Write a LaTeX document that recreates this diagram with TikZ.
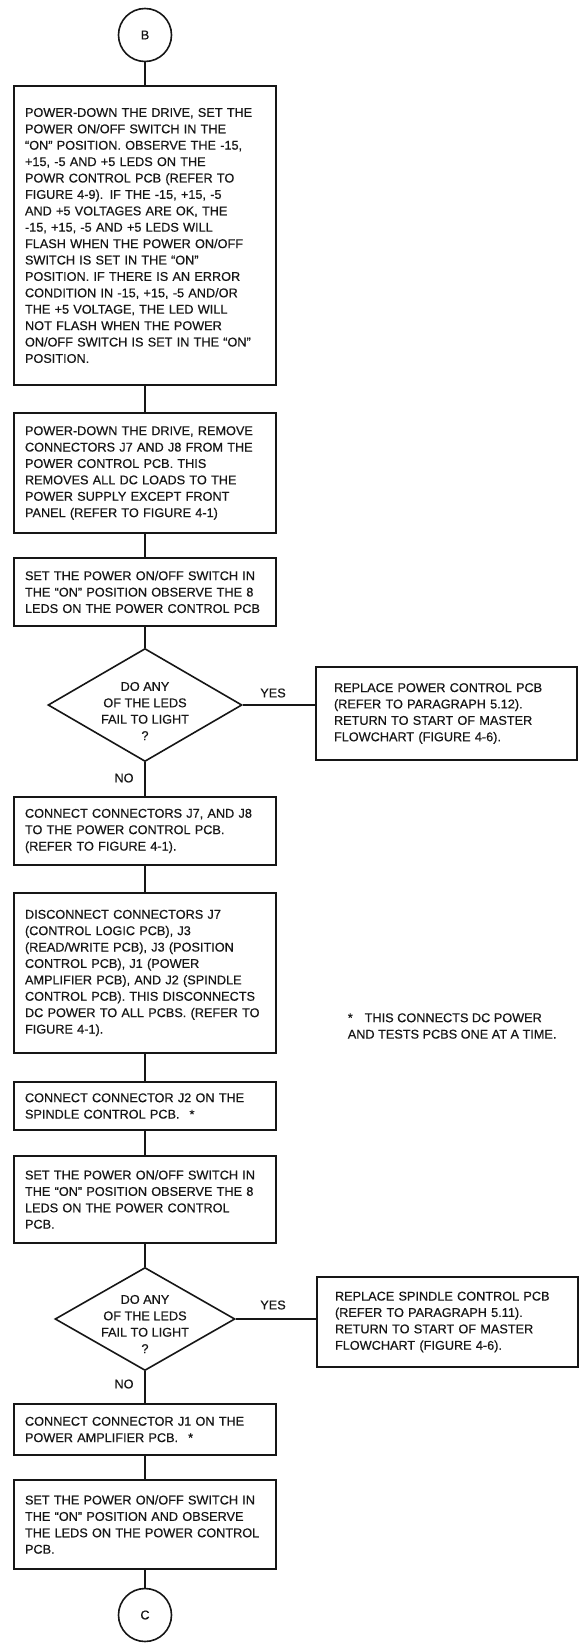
\documentclass[tikz,border=0pt]{standalone}
\usepackage{fontspec}
\setmainfont[FakeBold=0.5]{Liberation Sans}
\usetikzlibrary{shapes.geometric}
\definecolor{Tinta}{RGB}{22,22,22}
\hyphenpenalty=10000

\begin{document}
\begin{tikzpicture}[x=1pt,y=-1pt,color=Tinta,line width=1.6pt,every node/.style={font=\fontsize{12.7}{16.4}\selectfont},
caixa/.style={draw,line width=2.2pt,text width=240pt,inner xsep=11pt,align=left},
caixad/.style={draw,line width=2.2pt,text width=225pt,inner xsep=18pt,align=left},
circ/.style={circle,draw,minimum size=53pt,inner sep=0pt},
losango/.style={diamond,draw,inner sep=0pt}]
\useasboundingbox(0,0)rectangle(579,1651);
\node[circ](B)at(145,35){B};
\node[caixa,minimum height=299pt](p1)at(145,235.5){POWER-DOWN THE DRIVE, SET THE\\POWER ON/OFF SWITCH IN THE\\``ON'' POSITION. OBSERVE THE -15,\\+15, -5 AND +5 LEDS ON THE\\POWR CONTROL PCB (REFER TO\\FIGURE 4-9). IF THE -15, +15, -5\\AND +5 VOLTAGES ARE OK, THE\\-15, +15, -5 AND +5 LEDS WILL\\FLASH WHEN THE POWER ON/OFF\\SWITCH IS SET IN THE ``ON''\\POSITION. IF THERE IS AN ERROR\\CONDITION IN -15, +15, -5 AND/OR\\THE +5 VOLTAGE, THE LED WILL\\NOT FLASH WHEN THE POWER\\ON/OFF SWITCH IS SET IN THE ``ON''\\POSITION.};
\node[caixa,minimum height=120pt](p2)at(145,473){POWER-DOWN THE DRIVE, REMOVE\\CONNECTORS J7 AND J8 FROM THE\\POWER CONTROL PCB. THIS\\REMOVES ALL DC LOADS TO THE\\POWER SUPPLY EXCEPT FRONT\\PANEL (REFER TO FIGURE 4-1)};
\node[caixa,minimum height=68pt](p3)at(145,592){SET THE POWER ON/OFF SWITCH IN\\THE ``ON'' POSITION OBSERVE THE 8\\LEDS ON THE POWER CONTROL PCB};
\node[losango,minimum width=194pt,minimum height=113pt](d1)at(145,705){};
\node[align=center](d1t)at(145,711){DO ANY\\OF THE LEDS\\FAIL TO LIGHT\\?};
\node[caixad,minimum height=93pt](r1)at(446.5,713.5){REPLACE POWER CONTROL PCB\\(REFER TO PARAGRAPH 5.12).\\RETURN TO START OF MASTER\\FLOWCHART (FIGURE 4-6).};
\node(sim1)at(273,693){YES};\node(nao1)at(124,778){NO};
\node[caixa,minimum height=68pt](p4)at(145,831){CONNECT CONNECTORS J7, AND J8\\TO THE POWER CONTROL PCB.\\(REFER TO FIGURE 4-1).};
\node[caixa,minimum height=160pt](p5)at(145,973){DISCONNECT CONNECTORS J7\\(CONTROL LOGIC PCB), J3\\(READ/WRITE PCB), J3 (POSITION\\CONTROL PCB), J1 (POWER\\AMPLIFIER PCB), AND J2 (SPINDLE\\CONTROL PCB). THIS DISCONNECTS\\DC POWER TO ALL PCBS. (REFER TO\\FIGURE 4-1).};
\node[align=left,anchor=west,inner sep=0pt](nota)at(347,1026){*\hspace{12pt}THIS CONNECTS DC POWER\\AND TESTS PCBS ONE AT A TIME.};
\node[caixa,minimum height=48pt](p6)at(145,1106){CONNECT CONNECTOR J2 ON THE\\SPINDLE CONTROL PCB.\hspace{10pt}*};
\node[caixa,minimum height=87pt](p7)at(145,1199.5){SET THE POWER ON/OFF SWITCH IN\\THE ``ON'' POSITION OBSERVE THE 8\\LEDS ON THE POWER CONTROL\\PCB.};
\node[losango,minimum width=180pt,minimum height=103pt](d2)at(145,1319){};
\node[align=center](d2t)at(145,1324){DO ANY\\OF THE LEDS\\FAIL TO LIGHT\\?};
\node[caixad,minimum height=90pt](r2)at(447.5,1322){REPLACE SPINDLE CONTROL PCB\\(REFER TO PARAGRAPH 5.11).\\RETURN TO START OF MASTER\\FLOWCHART (FIGURE 4-6).};
\node(sim2)at(273,1305){YES};\node(nao2)at(124,1384){NO};
\node[caixa,minimum height=51pt](p8)at(145,1429.5){CONNECT CONNECTOR J1 ON THE\\POWER AMPLIFIER PCB.\hspace{10pt}*};
\node[caixa,minimum height=89pt](p9)at(145,1524.5){SET THE POWER ON/OFF SWITCH IN\\THE ``ON'' POSITION AND OBSERVE\\THE LEDS ON THE POWER CONTROL\\PCB.};
\node[circ](C)at(145,1615){C};
\draw(B)--(p1);\draw(p1)--(p2);\draw(p2)--(p3);\draw(p3)--(d1);\draw(d1)--(p4);
\draw(d1.east)--(d1.east-|r1.west);
\draw(p4)--(p5);\draw(p5)--(p6);\draw(p6)--(p7);\draw(p7)--(d2);\draw(d2)--(p8);
\draw(d2.east)--(d2.east-|r2.west);
\draw(p8)--(p9);\draw(p9)--(C);
\end{tikzpicture}
\end{document}
